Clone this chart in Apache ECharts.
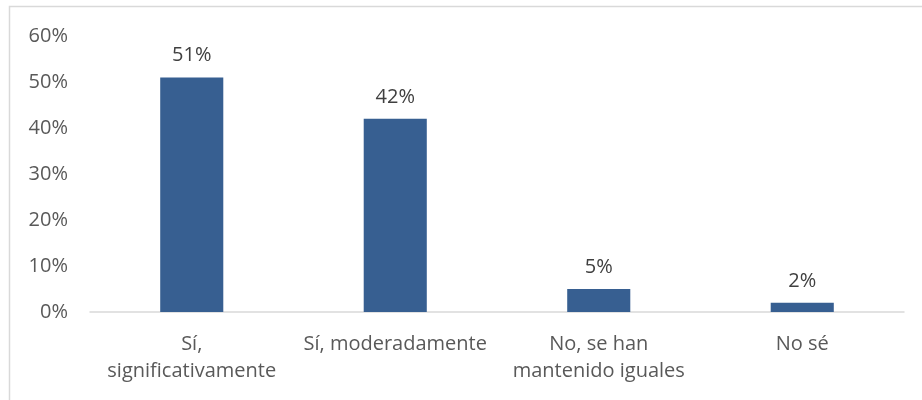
<!DOCTYPE html>
<html>
<head>
<meta charset="utf-8">
<script src="https://cdn.jsdelivr.net/npm/echarts@6/dist/echarts.min.js"></script>
<style>
  html, body { margin: 0; padding: 0; background: #fff; }
  #chart { width: 922px; height: 400px; }
</style>
</head>
<body>
<div id="chart"></div>
<script>
// Respuestas a la pregunta (porcentaje de encuestados)
const categories = ['Sí,\nsignificativamente', 'Sí, moderadamente', 'No, se han\nmantenido iguales', 'No sé'];
const values = [51, 42, 5, 2];
const yTicks = [0, 10, 20, 30, 40, 50, 60];

const FONT = '"Open Sans", Lato, sans-serif';
const TEXT = '#595959';

const chart = echarts.init(document.getElementById('chart'), null, { renderer: 'canvas' });
chart.setOption({
  animation: false,
  backgroundColor: '#fff',
  graphic: [{
    type: 'rect',
    shape: { x: 9.5, y: 6.5, width: 940, height: 420 },
    style: { fill: 'none', stroke: '#d9d9d9', lineWidth: 1.5 },
    silent: true
  }],
  grid: { left: 90, right: 18, top: 36, bottom: 88 },
  xAxis: {
    type: 'category',
    data: categories,
    axisLine: { lineStyle: { color: '#d9d9d9', width: 1.5 } },
    axisTick: { show: false },
    axisLabel: {
      color: TEXT, fontFamily: FONT, fontSize: 20, lineHeight: 27,
      margin: 19, interval: 0, align: 'center'
    }
  },
  yAxis: {
    type: 'value',
    min: yTicks[0],
    max: yTicks[yTicks.length - 1],
    interval: 10,
    axisLine: { show: false },
    axisTick: { show: false },
    splitLine: { show: false },
    axisLabel: {
      color: TEXT, fontFamily: FONT, fontSize: 20, margin: 22,
      formatter: v => v + '%'
    }
  },
  series: [{
    type: 'bar',
    data: values,
    barWidth: '31%',
    itemStyle: { color: '#375F91' },
    label: {
      show: true, position: 'top', distance: 12,
      color: '#404040', fontFamily: FONT, fontSize: 20,
      formatter: p => p.value + '%'
    }
  }]
});
</script>
</body>
</html>
